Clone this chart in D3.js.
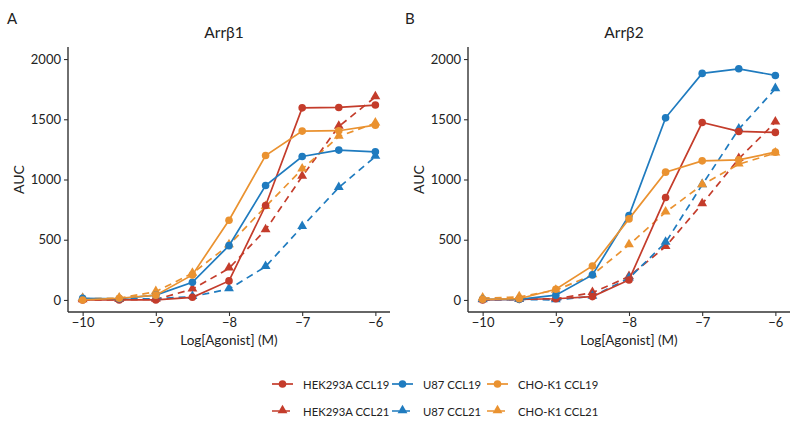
<!DOCTYPE html>
<html>
<head>
<meta charset="utf-8">
<script src="https://cdn.jsdelivr.net/npm/d3@7"></script>
<style>
  html, body { margin: 0; padding: 0; background: #fff; }
  svg text { font-family: Lato, "Open Sans", sans-serif; fill: #222; }
</style>
</head>
<body>
<svg id="chart" width="799" height="426"></svg>
<script>
// ---------- data ----------
const logDose = [-10, -9.5, -9, -8.5, -8, -7.5, -7, -6.5, -6];
const xTicks = [-10, -9, -8, -7, -6];
const yTicks = [0, 500, 1000, 1500, 2000];

const seriesNames = ["HEK293A CCL19", "U87 CCL19", "CHO-K1 CCL19", "HEK293A CCL21", "U87 CCL21", "CHO-K1 CCL21"];
const seriesCell  = ["HEK293A", "U87", "CHO-K1", "HEK293A", "U87", "CHO-K1"];
const seriesLigand = ["CCL19", "CCL19", "CCL19", "CCL21", "CCL21", "CCL21"];

// Arrβ1 panel
const arrb1_HEK_CCL19 = [0, 0, 0, 22, 158, 784, 1595, 1598, 1618];
const arrb1_U87_CCL19 = [14, 10, 40, 147, 451, 950, 1191, 1244, 1230];
const arrb1_CHO_CCL19 = [0, 14, 40, 208, 662, 1199, 1402, 1405, 1451];
const arrb1_HEK_CCL21 = [0, 2, 5, 89, 263, 582, 1025, 1440, 1685];
const arrb1_U87_CCL21 = [10, 8, 10, 28, 91, 277, 609, 933, 1191];
const arrb1_CHO_CCL21 = [10, 15, 69, 221, 457, 775, 1086, 1357, 1468];

// Arrβ2 panel
const arrb2_HEK_CCL19 = [0, 5, 10, 28, 166, 850, 1473, 1399, 1391];
const arrb2_U87_CCL19 = [5, 5, 40, 208, 701, 1512, 1881, 1919, 1864];
const arrb2_CHO_CCL19 = [5, 10, 89, 282, 673, 1061, 1155, 1163, 1227];
const arrb2_HEK_CCL21 = [0, 5, 10, 60, 194, 443, 798, 1172, 1476];
const arrb2_U87_CCL21 = [3, 5, 0, 30, 180, 477, 956, 1418, 1753];
const arrb2_CHO_CCL21 = [15, 25, 80, 208, 457, 729, 956, 1127, 1219];

const panelTitles = ["Arrβ1", "Arrβ2"];
const panelLetters = ["A", "B"];
const panelData = [
  [arrb1_HEK_CCL19, arrb1_U87_CCL19, arrb1_CHO_CCL19, arrb1_HEK_CCL21, arrb1_U87_CCL21, arrb1_CHO_CCL21],
  [arrb2_HEK_CCL19, arrb2_U87_CCL19, arrb2_CHO_CCL19, arrb2_HEK_CCL21, arrb2_U87_CCL21, arrb2_CHO_CCL21]
];

// ---------- style ----------
const cellColor = { "HEK293A": "#C43C2B", "U87": "#1F7BBF", "CHO-K1": "#EA9230" };
const svg = d3.select("#chart");

const panels = [
  { left: 68, right: 390, top: 47, bottom: 312, letterX: 7 },
  { left: 468, right: 790, top: 47, bottom: 312, letterX: 405 }
];

const tri = d3.symbol().type(d3.symbolTriangle).size(42);

panels.forEach((p, pi) => {
  const x = d3.scaleLinear().domain([-10.2, -5.8]).range([p.left, p.right]);
  const y = d3.scaleLinear().domain([-100, 2100]).range([p.bottom, p.top]);
  const g = svg.append("g");

  // axes
  const xAxis = d3.axisBottom(x).tickValues(xTicks).tickSize(4).tickPadding(2)
    .tickFormat(d => "\u2212" + Math.abs(d));
  const yAxis = d3.axisLeft(y).tickValues(yTicks).tickSize(4).tickPadding(3)
    .tickFormat(d3.format("d"));

  const gx = g.append("g").attr("transform", `translate(0,${p.bottom})`).call(xAxis);
  const gy = g.append("g").attr("transform", `translate(${p.left},0)`).call(yAxis);
  [gx, gy].forEach(a => {
    a.attr("font-family", null).attr("font-size", null);
    a.select(".domain").attr("stroke", "#333").attr("stroke-width", 1.4);
    a.selectAll(".tick line").attr("stroke", "#333").attr("stroke-width", 1.1);
    a.selectAll(".tick text").style("font-size", "13px").attr("fill", "#222");
  });
  gx.select(".domain").attr("d", `M${p.left},0H${p.right}`);
  gy.select(".domain").attr("d", `M0,${p.top}V${p.bottom}`);

  // titles
  g.append("text").attr("x", (p.left + p.right) / 2 - 5).attr("y", 38)
    .attr("text-anchor", "middle").style("font-size", "15.5px").text(panelTitles[pi]);
  g.append("text").attr("x", p.letterX).attr("y", 24)
    .style("font-size", "15px").text(panelLetters[pi]);
  g.append("text").attr("transform", `translate(${p.left - 44},${(p.top + p.bottom) / 2}) rotate(-90)`)
    .attr("text-anchor", "middle").style("font-size", "14px").text("AUC");
  g.append("text").attr("x", x(-8)).attr("y", 345)
    .attr("text-anchor", "middle").style("font-size", "13.5px").text("Log[Agonist] (M)");

  // series
  const line = d3.line().x((d, i) => x(logDose[i])).y(d => y(d));
  const order = [3, 4, 5, 0, 1, 2];
  order.forEach(si => {
    const vals = panelData[pi][si];
    const col = cellColor[seriesCell[si]];
    const dashed = seriesLigand[si] === "CCL21";
    const sg = g.append("g");
    sg.append("path").datum(vals).attr("d", line)
      .attr("fill", "none").attr("stroke", col).attr("stroke-width", 1.7)
      .attr("stroke-dasharray", dashed ? "7,5" : null);
    if (dashed) {
      sg.selectAll("path.pt").data(vals).join("path").attr("class", "pt")
        .attr("d", tri)
        .attr("transform", (d, i) => `translate(${x(logDose[i])},${y(d) - 0.5})`)
        .attr("fill", col);
    } else {
      sg.selectAll("circle").data(vals).join("circle")
        .attr("cx", (d, i) => x(logDose[i])).attr("cy", d => y(d)).attr("r", 3.8)
        .attr("fill", col);
    }
  });
});

// ---------- legend ----------
const legendCols = [272, 392, 487];
const legendRows = [384, 411];
const lg = svg.append("g");
seriesNames.forEach((name, si) => {
  const col = cellColor[seriesCell[si]];
  const dashed = seriesLigand[si] === "CCL21";
  const cx0 = legendCols[si % 3];
  const cy = legendRows[dashed ? 1 : 0];
  lg.append("line").attr("x1", cx0).attr("x2", cx0 + 21).attr("y1", cy).attr("y2", cy)
    .attr("stroke", col).attr("stroke-width", 1.7)
    .attr("stroke-dasharray", dashed ? "7,4" : null);
  if (dashed) {
    lg.append("path").attr("d", tri).attr("transform", `translate(${cx0 + 10.5},${cy - 0.5})`).attr("fill", col);
  } else {
    lg.append("circle").attr("cx", cx0 + 10.5).attr("cy", cy).attr("r", 3.8).attr("fill", col);
  }
  lg.append("text").attr("x", cx0 + 31).attr("y", cy + 4.5)
    .style("font-size", "11.3px").text(name);
});
</script>
</body>
</html>
